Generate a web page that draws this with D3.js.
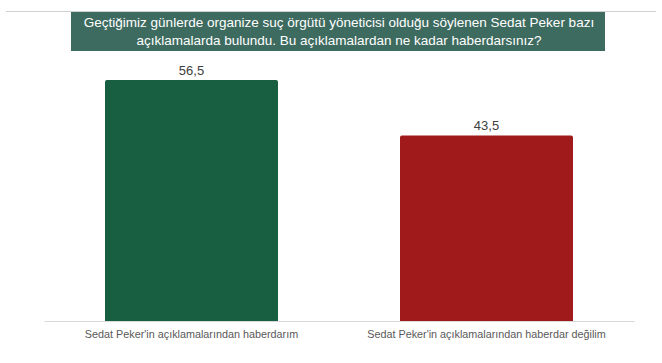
<!DOCTYPE html>
<html><head><meta charset="utf-8">
<script src="https://cdn.jsdelivr.net/npm/d3@7"></script>
<style>body{margin:0;background:#fff;}svg{display:block;font-family:"Liberation Sans",Arial,sans-serif;}</style>
</head><body>
<svg id="c" width="662" height="363"></svg>
<script>
const categories = ["Sedat Peker'in açıklamalarından haberdarım", "Sedat Peker'in açıklamalarından haberdar değilim"];
const values = [56.5, 43.5];
const valueLabels = ["56,5", "43,5"];
const colors = ["#185f42", "#a01a1c"];
const titleLines = ["Geçtiğimiz günlerde organize suç örgütü yöneticisi olduğu söylenen Sedat Peker bazı", "açıklamalarda bulundu. Bu açıklamalardan ne kadar haberdarsınız?"];

const svg = d3.select("#c");
// top rule
svg.append("line").attr("x1",6).attr("x2",656).attr("y1",11.5).attr("y2",11.5).attr("stroke","#d0d0d0").attr("stroke-width",1);
// title box
svg.append("rect").attr("x",71).attr("y",12).attr("width",534).attr("height",39).attr("fill","#3e6b5f");
svg.selectAll("text.title").data(titleLines).join("text").attr("class","title")
  .attr("x",339).attr("y",(d,i)=>27+i*18).attr("text-anchor","middle")
  .attr("fill","#fff").attr("font-size","13.5px").text(d=>d);

const x = d3.scaleBand().domain(categories).range([44,634]).paddingInner(0.4136).paddingOuter(0.2068);
const y = d3.scaleLinear().domain([0,60]).range([321,65.1]);

svg.selectAll("path.bar").data(values).join("path").attr("class","bar")
  .attr("fill",(d,i)=>colors[i])
  .attr("d",(d,i)=>{
    const x0=x(categories[i]), w=x.bandwidth(), y0=y(d), y1=y(0), r=2;
    return `M${x0},${y1}V${y0+r}Q${x0},${y0} ${x0+r},${y0}H${x0+w-r}Q${x0+w},${y0} ${x0+w},${y0+r}V${y1}Z`;
  });

svg.selectAll("text.val").data(values).join("text").attr("class","val")
  .attr("x",(d,i)=>x(categories[i])+x.bandwidth()/2).attr("y",d=>y(d)-5)
  .attr("text-anchor","middle").attr("fill","#404040").attr("font-size","13px")
  .text((d,i)=>valueLabels[i]);

// baseline axis
const ax = svg.append("g").attr("transform","translate(0,321)").call(d3.axisBottom(x).tickSize(0).tickPadding(9));
ax.select(".domain").attr("stroke","#d9d9d9").attr("stroke-width",1);
ax.selectAll("text").attr("fill","#595959").attr("font-size","10.8px").attr("font-family","Liberation Sans, Arial, sans-serif");
</script>
</body></html>
